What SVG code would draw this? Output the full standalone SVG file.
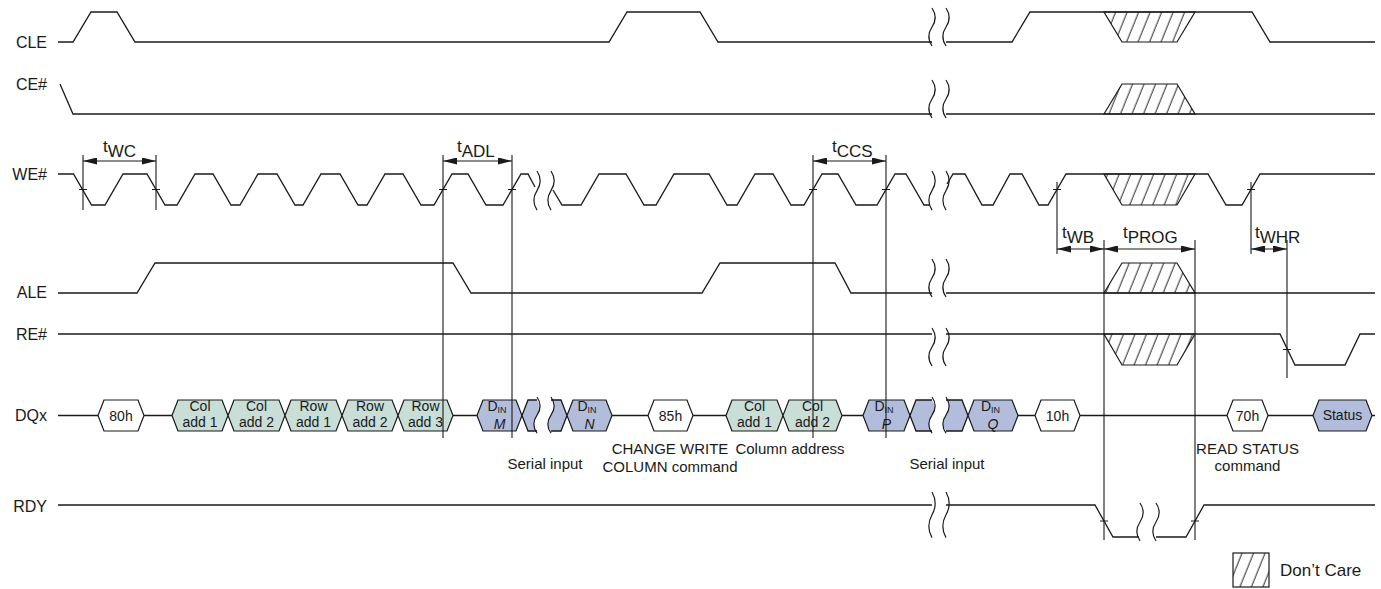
<svg xmlns="http://www.w3.org/2000/svg" xmlns:xlink="http://www.w3.org/1999/xlink" width="1381" height="589" viewBox="0 0 1381 589">
<defs>
<style>
.w{fill:none;stroke:#1a1a1a;stroke-width:1.3;stroke-linejoin:miter}
.t{fill:none;stroke:#1a1a1a;stroke-width:1.1}
.sig{font-family:"Liberation Sans",Arial,sans-serif;font-size:16px;fill:#1a1a1a;text-anchor:end}
.hx{font-family:"Liberation Sans",Arial,sans-serif;font-size:14px;fill:#1a1a1a;text-anchor:middle}
.tm{font-family:"Liberation Sans",Arial,sans-serif;font-size:17px;fill:#1a1a1a}
.nt{font-family:"Liberation Sans",Arial,sans-serif;font-size:15px;fill:#1a1a1a;text-anchor:middle}
.g{fill:#c8ded7;stroke:#1a1a1a;stroke-width:1.2}
.b{fill:#b1bdda;stroke:#1a1a1a;stroke-width:1.2}
.wh{fill:#fff;stroke:#1a1a1a;stroke-width:1.2}
.bf{fill:#b1bdda;stroke:none}
.h{fill:url(#hatch);stroke:#1a1a1a;stroke-width:1.2}
.dim{stroke:#1a1a1a;stroke-width:1.2;marker-start:url(#ah);marker-end:url(#ah)}
</style>
<pattern id="hatch" width="11.5" height="10" patternUnits="userSpaceOnUse" patternTransform="skewX(-22)">
<line x1="5" y1="-1" x2="5" y2="11" stroke="#1a1a1a" stroke-width="1"/>
</pattern>
<marker id="ah" viewBox="0 0 14 7" refX="14" refY="3.5" markerWidth="14" markerHeight="7" markerUnits="userSpaceOnUse" orient="auto-start-reverse">
<path d="M0,0 L14,3.5 L0,7 Z" fill="#1a1a1a"/>
</marker>
<path id="sq" d="M0,0 C4,6 4,13 0,19 C-4,25 -4,32 0,38" fill="none" stroke="#1a1a1a" stroke-width="1.2" vector-effect="non-scaling-stroke"/>
</defs>
<rect width="1381" height="589" fill="#fff"/>

<g id="labels">
<text class="sig" x="47" y="48">CLE</text>
<text class="sig" x="47" y="90">CE#</text>
<text class="sig" x="47" y="180">WE#</text>
<text class="sig" x="47" y="298">ALE</text>
<text class="sig" x="47" y="340">RE#</text>
<text class="sig" x="47" y="421">DQx</text>
<text class="sig" x="47" y="512">RDY</text>
</g>

<g id="sig-cle">
<path class="h" d="M1104,12 L1195,12 L1177,42 L1122,42 Z"/>
<path class="w" d="M58,42 L73,42 L91,12 L117,12 L135,42 L609,42 L627,12 L700,12 L718,42 L932,42"/>
<path class="w" d="M946,42 L1012,42 L1030,12 L1252,12 L1270,42 L1375,42"/>
</g>

<g id="sig-ce">
<path class="h" d="M1104,114 L1122,84 L1177,84 L1195,114 Z"/>
<path class="w" d="M60,84 L73,114 L932,114"/>
<path class="w" d="M946,114 L1375,114"/>
</g>

<g id="sig-we">
<path class="h" d="M1104,174 L1195,174 L1177,205 L1122,205 Z"/>
<path class="w" d="M58,174 L73.5,174 L91.5,205 L105,205 L123,174 L147,174 L165,205 L177,205 L195,174 L213,174 L231,205 L240,205 L258,174 L277,174 L295,205 L303,205 L321,174 L340,174 L358,205 L367,205 L385,174 L403,174 L421,205 L434,205 L452,174 L468,174 L486,205 L503,205 L521,174 L528,174 L535,187"/>
<path class="w" d="M553,190 L562,205 L581,205 L599,174 L626,174 L644,205 L656,205 L674,174 L709,174 L727,205 L737,205 L755,174 L773,174 L791,205 L804,205 L822,174 L838,174 L856,205 L877,205 L895,174 L906,174 L924,205 L930,205"/>
<path class="w" d="M947,184 L953,174 L965,174 L982,205 L993,205 L1010,174 L1022,174 L1039,205 L1048,205 L1066,174 L1208,174 L1226,205 L1242,205 L1260,174 L1375,174"/>
</g>

<g id="sig-ale">
<path class="h" d="M1104,293 L1122,263 L1177,263 L1195,293 Z"/>
<path class="w" d="M58,293 L137,293 L155,263 L453,263 L471,293 L702,293 L720,263 L835,263 L851,293 L932,293"/>
<path class="w" d="M946,293 L1375,293"/>
</g>

<g id="sig-re">
<path class="h" d="M1104,334 L1195,334 L1177,365 L1122,365 Z"/>
<path class="w" d="M58,334 L932,334"/>
<path class="w" d="M946,334 L1280,334 L1295,365 L1345,365 L1360,334 L1375,334"/>
</g>

<g id="sig-dqx">
<path class="w" d="M58,415.5 L98,415.5 M144,415.5 L172,415.5 M453,415.5 L477,415.5 M612,415.5 L648,415.5 M693,415.5 L726,415.5 M842,415.5 L863,415.5 M1018,415.5 L1035,415.5 M1080,415.5 L1227,415.5 M1268,415.5 L1313,415.5 M1372,415.5 L1375,415.5"/>
<g id="hex-80h"><path class="wh" d="M98,415.5 L104,400 L138,400 L144,415.5 L138,431 L104,431 Z"/><text class="hx" x="121" y="421" font-size="16">80h</text></g>
<g id="hex-col1"><path class="g" d="M172,415.5 L178,400 L222,400 L228,415.5 L222,431 L178,431 Z"/><text class="hx"><tspan x="200" y="411">Col</tspan><tspan x="200" y="426.8">add 1</tspan></text></g>
<g id="hex-col2"><path class="g" d="M228,415.5 L234,400 L279,400 L285,415.5 L279,431 L234,431 Z"/><text class="hx"><tspan x="256.5" y="411">Col</tspan><tspan x="256.5" y="426.8">add 2</tspan></text></g>
<g id="hex-row1"><path class="g" d="M285,415.5 L291,400 L336,400 L342,415.5 L336,431 L291,431 Z"/><text class="hx"><tspan x="313.5" y="411">Row</tspan><tspan x="313.5" y="426.8">add 1</tspan></text></g>
<g id="hex-row2"><path class="g" d="M342,415.5 L348,400 L392,400 L398,415.5 L392,431 L348,431 Z"/><text class="hx"><tspan x="370" y="411">Row</tspan><tspan x="370" y="426.8">add 2</tspan></text></g>
<g id="hex-row3"><path class="g" d="M398,415.5 L404,400 L447,400 L453,415.5 L447,431 L404,431 Z"/><text class="hx"><tspan x="425.5" y="411">Row</tspan><tspan x="425.5" y="426.8">add 3</tspan></text></g>
<g id="hex-dinm"><path class="b" d="M477,415.5 L483,400 L516,400 L522,415.5 L516,431 L483,431 Z"/><text class="hx"><tspan x="497" y="411">D</tspan><tspan font-size="9" dy="2">IN</tspan><tspan x="499.5" y="429" font-style="italic">M</tspan></text></g>
<g id="brk-dq1">
<path class="bf" d="M522,415.5 L528,400 L537,400 C541,406 541,411 537,415.5 C533,421 533,426 537,431 L528,431 Z"/>
<path class="w" d="M537,400 L528,400 L522,415.5 L528,431 L537,431"/>
<path class="bf" d="M551,400 L561,400 L567,415.5 L561,431 L551,431 C547,426 547,421 551,415.5 C555,411 555,405 551,400 Z"/>
<path class="w" d="M551,400 L561,400 L567,415.5 L561,431 L551,431"/>
</g>
<g id="hex-dinn"><path class="b" d="M567,415.5 L573,400 L606,400 L612,415.5 L606,431 L573,431 Z"/><text class="hx"><tspan x="587" y="411">D</tspan><tspan font-size="9" dy="2">IN</tspan><tspan x="589.5" y="429" font-style="italic">N</tspan></text></g>
<g id="hex-85h"><path class="wh" d="M648,415.5 L654,400 L687,400 L693,415.5 L687,431 L654,431 Z"/><text class="hx" x="670.5" y="421" font-size="16">85h</text></g>
<g id="hex-col1b"><path class="g" d="M726,415.5 L732,400 L777,400 L783,415.5 L777,431 L732,431 Z"/><text class="hx"><tspan x="754.5" y="411">Col</tspan><tspan x="754.5" y="426.8">add 1</tspan></text></g>
<g id="hex-col2b"><path class="g" d="M783,415.5 L789,400 L836,400 L842,415.5 L836,431 L789,431 Z"/><text class="hx"><tspan x="812.5" y="411">Col</tspan><tspan x="812.5" y="426.8">add 2</tspan></text></g>
<g id="hex-dinp"><path class="b" d="M863,415.5 L869,400 L904,400 L910,415.5 L904,431 L869,431 Z"/><text class="hx"><tspan x="884" y="411">D</tspan><tspan font-size="9" dy="2">IN</tspan><tspan x="886.5" y="429" font-style="italic">P</tspan></text></g>
<g id="brk-dq2">
<path class="bf" d="M910,415.5 L916,400 L932,400 C936,406 936,411 932,415.5 C928,421 928,426 932,431 L916,431 Z"/>
<path class="w" d="M932,400 L916,400 L910,415.5 L916,431 L932,431"/>
<path class="bf" d="M946,400 L962,400 L968,415.5 L962,431 L946,431 C942,426 942,421 946,415.5 C950,411 950,405 946,400 Z"/>
<path class="w" d="M946,400 L962,400 L968,415.5 L962,431 L946,431"/>
</g>
<g id="hex-dinq"><path class="b" d="M968,415.5 L974,400 L1012,400 L1018,415.5 L1012,431 L974,431 Z"/><text class="hx"><tspan x="990.5" y="411">D</tspan><tspan font-size="9" dy="2">IN</tspan><tspan x="993" y="429" font-style="italic">Q</tspan></text></g>
<g id="hex-10h"><path class="wh" d="M1035,415.5 L1041,400 L1074,400 L1080,415.5 L1074,431 L1041,431 Z"/><text class="hx" x="1057.5" y="421" font-size="16">10h</text></g>
<g id="hex-70h"><path class="wh" d="M1227,415.5 L1233,400 L1262,400 L1268,415.5 L1262,431 L1233,431 Z"/><text class="hx" x="1247.5" y="421" font-size="16">70h</text></g>
<g id="hex-status"><path class="b" d="M1313,415.5 L1319,400 L1366,400 L1372,415.5 L1366,431 L1319,431 Z"/><text class="hx" x="1342.5" y="420" font-size="13">Status</text></g>
</g>

<g id="sig-rdy">
<path class="w" d="M58,505 L932,505"/>
<path class="w" d="M946,505 L1095,505 L1113,537 L1139,537"/>
<path class="w" d="M1156,537 L1186,537 L1204,505 L1375,505"/>
</g>

<g id="breaks">
<use xlink:href="#sq" transform="translate(932,8)"/>
<use xlink:href="#sq" transform="translate(946,8)"/>
<use xlink:href="#sq" transform="translate(932,80)"/>
<use xlink:href="#sq" transform="translate(946,80)"/>
<use xlink:href="#sq" transform="translate(932,171) scale(1,1.03)"/>
<use xlink:href="#sq" transform="translate(946,171) scale(1,1.03)"/>
<use xlink:href="#sq" transform="translate(537,171) scale(1,1.03)"/>
<use xlink:href="#sq" transform="translate(551,171) scale(1,1.03)"/>
<use xlink:href="#sq" transform="translate(932,259)"/>
<use xlink:href="#sq" transform="translate(946,259)"/>
<use xlink:href="#sq" transform="translate(932,328)"/>
<use xlink:href="#sq" transform="translate(946,328)"/>
<use xlink:href="#sq" transform="translate(537,397) scale(1,0.95)"/>
<use xlink:href="#sq" transform="translate(551,397) scale(1,0.95)"/>
<use xlink:href="#sq" transform="translate(932,397) scale(1,0.95)"/>
<use xlink:href="#sq" transform="translate(946,397) scale(1,0.95)"/>
<use xlink:href="#sq" transform="translate(932,492) scale(1,1.2)"/>
<use xlink:href="#sq" transform="translate(946,492) scale(1,1.2)"/>
<use xlink:href="#sq" transform="translate(1140,503)"/>
<use xlink:href="#sq" transform="translate(1156,503)"/>
</g>

<g id="connectors">
<path class="t" d="M83,155 V210 M156,155 V210 M443,155 V438 M512,155 V438 M813,155 V438 M886,155 V438 M1057,182 V254 M1104,240 V540 M1195,240 V540 M1251,182 V254 M1287,240 V378"/>
<path class="t" d="M79,189.5 H87 M152,189.5 H160 M439,189.5 H447 M508,189.5 H516 M809,189.5 H817 M882,189.5 H890 M1053,189.5 H1061 M1247,189.5 H1255 M1283,349.5 H1291 M1100,521 H1108 M1191,521 H1199"/>
<line class="dim" x1="83" y1="161" x2="156" y2="161"/>
<line class="dim" x1="443" y1="161" x2="512" y2="161"/>
<line class="dim" x1="813" y1="161" x2="886" y2="161"/>
<line class="dim" x1="1057" y1="249" x2="1104" y2="249"/>
<line class="dim" x1="1104" y1="249" x2="1195" y2="249"/>
<line class="dim" x1="1251" y1="249" x2="1287" y2="249"/>
</g>

<g id="timing-labels">
<text class="tm" x="103" y="152">t<tspan dy="5">WC</tspan></text>
<text class="tm" x="457" y="152">t<tspan dy="5">ADL</tspan></text>
<text class="tm" x="832" y="152">t<tspan dy="5">CCS</tspan></text>
<text class="tm" x="1062" y="238">t<tspan dy="5">WB</tspan></text>
<text class="tm" x="1123" y="238">t<tspan dy="5">PROG</tspan></text>
<text class="tm" x="1255" y="238">t<tspan dy="5">WHR</tspan></text>
</g>

<g id="notes">
<text class="nt" x="545" y="469">Serial input</text>
<text class="nt"><tspan x="670" y="454">CHANGE WRITE</tspan><tspan x="670" y="472">COLUMN command</tspan></text>
<text class="nt" x="790" y="454">Column address</text>
<text class="nt" x="947" y="469">Serial input</text>
<text class="nt"><tspan x="1247.5" y="454">READ STATUS</tspan><tspan x="1247.5" y="471">command</tspan></text>
</g>

<g id="legend">
<rect class="h" x="1233" y="553" width="36" height="34"/>
<text class="tm" x="1280" y="576">Don’t Care</text>
</g>
</svg>
